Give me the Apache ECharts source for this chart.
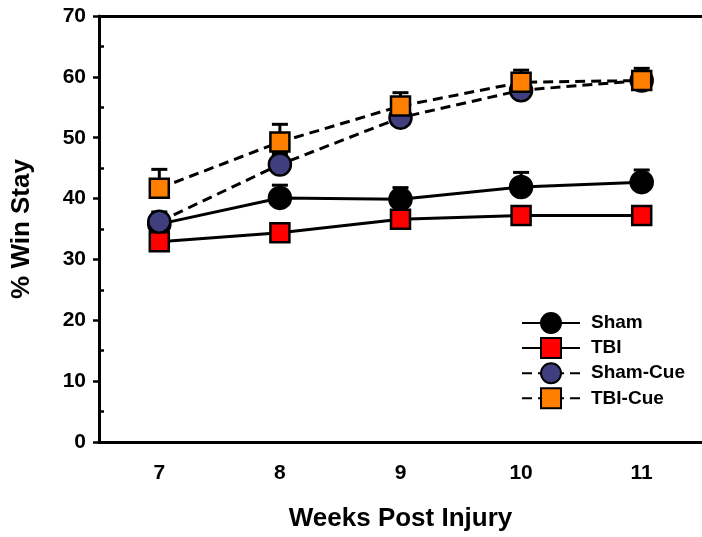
<!DOCTYPE html>
<html><head><meta charset="utf-8">
<script src="https://cdn.jsdelivr.net/npm/echarts@6/dist/echarts.min.js"></script>
<style>html,body{margin:0;padding:0;background:#fff}#c{width:702px;height:537px}</style>
</head><body><div id="c"></div>
<script>
const weeks = ['7', '8', '9', '10', '11'];
const sham = [35.8, 40.1, 39.9, 41.9, 42.7];
const shamErr = [1.5, 2.1, 1.9, 2.4, 2.0];
const tbi = [32.9, 34.4, 36.6, 37.2, 37.2];
const tbiErr = [0.8, 0.8, 0.8, 0.8, 0.8];
const shamCue = [36.2, 45.6, 53.3, 57.8, 59.4];
const shamCueErr = [1.6, 1.8, 1.5, 1.2, 1.2];
const tbiCue = [41.7, 49.3, 55.2, 59.1, 59.4];
const tbiCueErr = [3.1, 2.9, 2.2, 2.0, 2.0];
const yTicks = {min: 0, max: 70, interval: 10};

const FONT = '"Liberation Sans", Arial, sans-serif';
const chart = echarts.init(document.getElementById('c'), null, {renderer: 'canvas'});

function errSeries(vals, errs) {
  return {
    type: 'custom',
    z: 1,
    silent: true,
    data: vals.map((v, i) => [i, v, v + errs[i]]),
    renderItem: function (params, api) {
      const x = api.value(0);
      const p0 = api.coord([x, api.value(1)]);
      const p1 = api.coord([x, api.value(2)]);
      const hw = 8;
      return {
        type: 'group',
        children: [
          {type: 'line', shape: {x1: p0[0], y1: p0[1], x2: p1[0], y2: p1[1]}, style: {stroke: '#000', lineWidth: 3}},
          {type: 'line', shape: {x1: p1[0] - hw, y1: p1[1], x2: p1[0] + hw, y2: p1[1]}, style: {stroke: '#000', lineWidth: 3}}
        ]
      };
    }
  };
}

function lineSeries(name, data, symbol, color, dashed, size) {
  return {
    name: name,
    type: 'line',
    z: 3,
    data: data,
    symbol: symbol,
    symbolSize: size,
    showAllSymbol: true,
    lineStyle: {color: '#000', width: 3, type: dashed ? [10, 6] : 'solid'},
    itemStyle: {color: color, borderColor: '#000', borderWidth: 2.5},
    emphasis: {disabled: true},
    animation: false
  };
}

chart.setOption({
  animation: false,
  backgroundColor: '#fff',
  grid: {left: 99, right: -4.5, top: 16, bottom: 95, containLabel: false},
  legend: {
    left: 516, top: 307, orient: 'vertical',
    itemWidth: 58, itemHeight: 25, itemGap: 3.1,
    textStyle: {fontFamily: FONT, fontWeight: 'bold', fontSize: 19, color: '#000', padding: [0, 0, 0, 6]},
    data: ['Sham', 'TBI', 'Sham-Cue', 'TBI-Cue']
  },
  xAxis: [{
    type: 'category', data: weeks, boundaryGap: true, position: 'bottom',
    axisLine: {lineStyle: {color: '#000', width: 3}},
    axisTick: {alignWithLabel: true, length: 6, lineStyle: {color: '#000', width: 2.5}},
    axisLabel: {fontFamily: FONT, fontWeight: 'bold', fontSize: 21, color: '#000', margin: 21},
    splitLine: {show: false},
    name: 'Weeks Post Injury', nameLocation: 'middle', nameGap: 64,
    nameTextStyle: {fontFamily: FONT, fontWeight: 'bold', fontSize: 26, color: '#000'}
  }, {
    type: 'category', data: weeks, position: 'top',
    axisLine: {lineStyle: {color: '#000', width: 3}},
    axisTick: {show: false}, axisLabel: {show: false}, splitLine: {show: false}
  }],
  yAxis: {
    type: 'value', min: yTicks.min, max: yTicks.max, interval: yTicks.interval,
    axisLine: {show: true, lineStyle: {color: '#000', width: 3}},
    axisTick: {show: true, length: 6, lineStyle: {color: '#000', width: 2.5}},
    minorTick: {show: true, splitNumber: 2, length: -5, lineStyle: {color: '#000', width: 2.5}},
    axisLabel: {fontFamily: FONT, fontWeight: 'bold', fontSize: 21, color: '#000', margin: 13},
    splitLine: {show: false},
    name: '% Win Stay', nameLocation: 'middle', nameGap: 64, nameRotate: 90,
    nameTextStyle: {fontFamily: FONT, fontWeight: 'bold', fontSize: 26, color: '#000'}
  },
  series: [
    errSeries(sham, shamErr),
    errSeries(tbi, tbiErr),
    errSeries(shamCue, shamCueErr),
    errSeries(tbiCue, tbiCueErr),
    lineSeries('Sham', sham, 'circle', '#000', false, 22),
    lineSeries('TBI', tbi, 'rect', '#ff0000', false, 19),
    lineSeries('Sham-Cue', shamCue, 'circle', '#3f3f80', true, 22),
    lineSeries('TBI-Cue', tbiCue, 'rect', '#ff8000', true, 19)
  ]
});
</script></body></html>
